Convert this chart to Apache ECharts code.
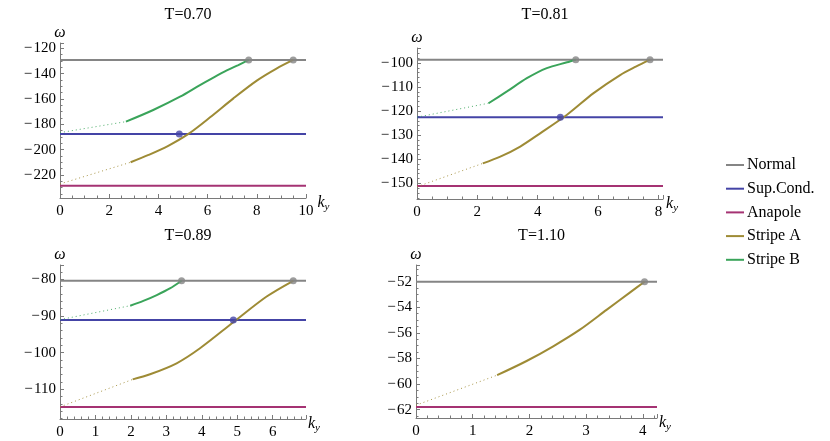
<!DOCTYPE html>
<html>
<head>
<meta charset="utf-8">
<script src="https://cdn.jsdelivr.net/npm/echarts@6/dist/echarts.min.js"></script>
<style>
  html, body { margin: 0; padding: 0; background: #fff; }
  #chart { width: 830px; height: 441px; }
</style>
</head>
<body>
<div id="chart"></div>
<script>
// 面板标题
const panelTitles = ['T=0.70', 'T=0.81', 'T=0.89', 'T=1.10']
// 水平能级
const normalLevel = [-129.2, -98.6, -80.4, -52.0]
const supCondLevel = [-187.6, -122.5, -91.1, null]
const anapoleLevel = [-228.6, -151.1, -114.8, -61.8]
// 条纹解在 k=0 处的外推值 (虚线起点)
const stripeAZero = [-227.1, -151.4, -114.8, -61.66]
const stripeBZero = [-186.6, -122.5, -91.0, null]
// 条纹解 [k_y, ω]
const stripeA = [
  [[2.87, -210.0], [3.6, -204.2], [4.4, -197.0], [5.22, -187.6], [6.1, -174.5], [7.05, -159.5], [8.0, -145.5], [8.8, -136.0], [9.48, -129.2]],
  [[2.18, -141.7], [2.76, -138.9], [3.42, -134.7], [4.08, -129.2], [4.97, -121.5], [5.85, -112.5], [6.73, -105.0], [7.25, -101.5], [7.72, -98.6]],
  [[2.05, -107.3], [2.54, -105.9], [3.29, -102.9], [3.95, -98.8], [4.89, -91.7], [5.83, -84.7], [6.58, -80.4]],
  [[1.43, -59.31], [1.95, -58.2], [2.42, -57.05], [2.89, -55.75], [3.36, -54.2], [3.77, -52.85], [4.03, -52.0]]
]
const stripeB = [
  [[2.68, -177.9], [3.79, -168.7], [4.88, -158.2], [5.69, -149.0], [6.2, -143.5], [6.78, -137.5], [7.25, -133.2], [7.67, -129.2]],
  [[2.37, -116.7], [2.98, -111.8], [3.64, -106.3], [4.30, -102.1], [4.97, -99.7], [5.26, -98.6]],
  [[1.98, -87.2], [2.35, -85.9], [2.73, -84.3], [3.10, -82.5], [3.43, -80.4]],
  null
]
// 交点
const normalDots = [[7.67, 9.48], [5.26, 7.72], [3.43, 6.58], [4.03]]
const supCondDots = [4.85, 4.75, 4.89, null]
// 坐标轴: 标签步长与次刻度分段数
const xLabelStep = [2, 2, 1, 1]
const yLabelStep = [20, 10, 10, 2]
const xMinorSplit = [4, 4, 5, 5]
const yMinorSplit = [4, 5, 5, 4]
const xMax = [10, 8.15, 6.94, 4.25]
const yRange = [[-238.2, -115.8], [-156.5, -93.75], [-118.1, -76.1], [-62.66, -50.69]]

const colors = {
  'Normal': '#858585',
  'Sup.Cond.': '#4444a6',
  'Anapole': '#a53373',
  'Stripe A': '#9e8b35',
  'Stripe B': '#3aa45a'
}
const panels = [
  { left: 60, top: 43, width: 246, height: 155 },
  { left: 417, top: 48, width: 246, height: 151 },
  { left: 60, top: 265, width: 246, height: 154 },
  { left: 416, top: 265, width: 241, height: 153 }
]
const font = 'Liberation Serif'
const axisColor = '#7a7a7a'

// 只在整步长处显示标签 (隐藏坐标轴端点的 min/max 标签)
function labelFmt(step) {
  return v => {
    if (Math.abs(v / step - Math.round(v / step)) > 1e-6) return ''
    return v < 0 ? '\u2212\u200a' + Math.abs(v) : String(v)
  }
}

let xAxis = []
let yAxis = []
let series = []
let title = []

panels.forEach((g, i) => {
  title.push({
    text: panelTitles[i],
    left: g.left + g.width / 2,
    top: i < 2 ? 2 : 223,
    textAlign: 'center',
    textStyle: { fontFamily: font, fontSize: 16, fontWeight: 'normal', color: '#000' }
  })
  xAxis.push({
    type: 'value', gridIndex: i, min: 0, max: xMax[i],
    name: '{k|k}{s|y}', nameLocation: 'end', nameGap: 2,
    nameTextStyle: {
      padding: [10, 0, 0, 0],
      rich: {
        k: { fontFamily: font, fontStyle: 'italic', fontSize: 16, color: '#000' },
        s: { fontFamily: font, fontStyle: 'italic', fontSize: 11, color: '#000', padding: [9, 0, 0, 0] }
      }
    },
    axisLine: { show: true, lineStyle: { color: axisColor, width: 1 } },
    axisTick: { show: true, inside: true, length: 4, lineStyle: { color: axisColor, width: 1 } },
    minorTick: { show: true, splitNumber: xMinorSplit[i], length: 2.5, lineStyle: { color: axisColor, width: 1 } },
    axisLabel: { formatter: labelFmt(xLabelStep[i]), margin: 6, fontFamily: font, fontSize: 15, color: '#000' },
    splitLine: { show: false }
  })
  yAxis.push({
    type: 'value', gridIndex: i, min: yRange[i][0], max: yRange[i][1],
    name: 'ω', nameLocation: 'end', nameGap: 2,
    nameTextStyle: { fontFamily: font, fontStyle: 'italic', fontSize: 16, color: '#000' },
    axisLine: { show: true, lineStyle: { color: axisColor, width: 1 } },
    axisTick: { show: true, inside: true, length: 4, lineStyle: { color: axisColor, width: 1 } },
    minorTick: { show: true, splitNumber: yMinorSplit[i], length: 2.5, lineStyle: { color: axisColor, width: 1 } },
    axisLabel: { formatter: labelFmt(yLabelStep[i]), margin: 4, fontFamily: font, fontSize: 15, color: '#000' },
    splitLine: { show: false }
  })

  const hline = (name, v) => ({
    name, type: 'line', xAxisIndex: i, yAxisIndex: i, color: colors[name],
    symbol: 'none', silent: true, z: 2,
    lineStyle: { width: 2, color: colors[name] },
    data: [[0, v], [xMax[i], v]]
  })
  const curve = (name, pts, zero) => [
    {
      name, type: 'line', xAxisIndex: i, yAxisIndex: i, color: colors[name],
      symbol: 'none', silent: true, z: 3,
      lineStyle: { width: 1, type: [1, 3], color: colors[name], opacity: 0.9 },
      data: [[0, zero], pts[0]]
    },
    {
      name, type: 'line', xAxisIndex: i, yAxisIndex: i, color: colors[name],
      symbol: 'none', silent: true, smooth: 0.3, z: 3,
      lineStyle: { width: 2, color: colors[name] },
      data: pts
    }
  ]

  series.push(hline('Normal', normalLevel[i]))
  if (supCondLevel[i] !== null) series.push(hline('Sup.Cond.', supCondLevel[i]))
  series.push(hline('Anapole', anapoleLevel[i]))
  series.push(...curve('Stripe A', stripeA[i], stripeAZero[i]))
  if (stripeB[i]) series.push(...curve('Stripe B', stripeB[i], stripeBZero[i]))
  // 交点
  series.push({
    type: 'scatter', xAxisIndex: i, yAxisIndex: i, symbolSize: 7, z: 5, silent: true,
    itemStyle: { color: colors['Normal'] },
    data: normalDots[i].map(k => [k, normalLevel[i]])
  })
  if (supCondDots[i] !== null) {
    series.push({
      type: 'scatter', xAxisIndex: i, yAxisIndex: i, symbolSize: 7, z: 5, silent: true,
      itemStyle: { color: colors['Sup.Cond.'] },
      data: [[supCondDots[i], supCondLevel[i]]]
    })
  }
})

let myEcharts = echarts.init(document.getElementById('chart'))
let option = {
  backgroundColor: '#fff',
  animation: false,
  title,
  legend: {
    orient: 'vertical',
    left: 721,
    top: 152,
    itemGap: 7.7,
    itemWidth: 18,
    itemHeight: 2,
    icon: 'rect',
    selectedMode: false,
    data: Object.keys(colors),
    textStyle: { fontFamily: font, fontSize: 16, color: '#000', padding: [0, 0, 0, -2] }
  },
  grid: panels,
  xAxis,
  yAxis,
  series
}
myEcharts.setOption(option)
</script>
</body>
</html>
